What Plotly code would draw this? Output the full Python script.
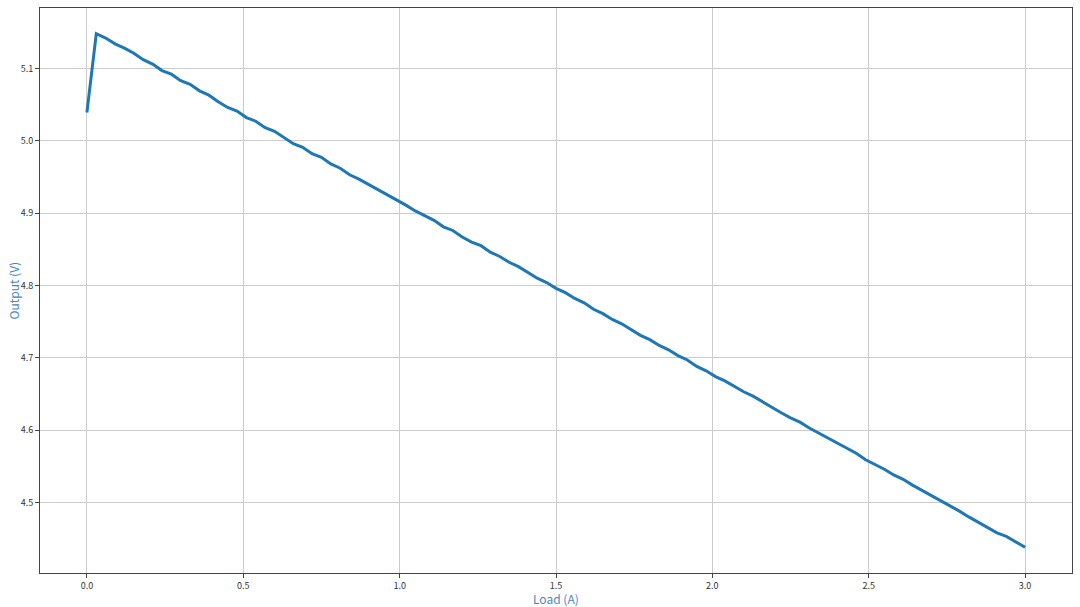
import plotly.graph_objects as go

load_a = [round(i * 0.03, 2) for i in range(101)]
output_v = [
    5.039, 5.148, 5.142, 5.134, 5.128, 5.121, 5.112, 5.106, 5.097, 5.092,
    5.083, 5.078, 5.069, 5.063, 5.054, 5.046, 5.041, 5.032, 5.027, 5.018,
    5.013, 5.004, 4.996, 4.991, 4.982, 4.977, 4.968, 4.962, 4.953, 4.947,
    4.940, 4.932, 4.926, 4.918, 4.911, 4.903, 4.897, 4.890, 4.881, 4.876,
    4.867, 4.860, 4.855, 4.846, 4.840, 4.832, 4.826, 4.818, 4.810, 4.804,
    4.796, 4.790, 4.782, 4.776, 4.767, 4.761, 4.753, 4.747, 4.739, 4.731,
    4.725, 4.717, 4.711, 4.703, 4.697, 4.688, 4.682, 4.674, 4.668, 4.660,
    4.653, 4.647, 4.639, 4.632, 4.624, 4.617, 4.611, 4.603, 4.596, 4.589,
    4.581, 4.574, 4.568, 4.559, 4.553, 4.546, 4.538, 4.532, 4.524, 4.517,
    4.509, 4.502, 4.495, 4.488, 4.480, 4.473, 4.466, 4.458, 4.453, 4.445,
    4.438,
]
x_ticks = [0.0, 0.5, 1.0, 1.5, 2.0, 2.5, 3.0]
y_ticks = [4.5, 4.6, 4.7, 4.8, 4.9, 5.0, 5.1]
x_title = "Load (A)"
y_title = "Output (V)"

fig = go.Figure()
fig.add_trace(go.Scatter(
    x=load_a, y=output_v, mode="lines",
    line=dict(color="#1f77b4", width=3),
    hoverinfo="x+y", showlegend=False,
))

xmin, xmax = min(load_a), max(load_a)
ymin, ymax = min(output_v), max(output_v)
xpad = (xmax - xmin) * 0.05
ypad = (ymax - ymin) * 0.05

axis_common = dict(
    showline=True, linecolor="#444444", linewidth=1, mirror=True,
    showgrid=True, gridcolor="#cccccc", gridwidth=1,
    ticks="outside", ticklen=4, tickcolor="#444444", tickwidth=1,
    tickfont=dict(family="Noto Sans CJK SC, DejaVu Sans", size=9, color="#333333"),
    zeroline=False, tickformat=".1f", automargin=False,
)
title_font = dict(family="Noto Sans CJK SC, DejaVu Sans", size=12, color="#4f86bd")

fig.update_layout(
    width=1080, height=607,
    margin=dict(l=40, r=8, t=8, b=34),
    paper_bgcolor="white", plot_bgcolor="white",
    xaxis=dict(range=[xmin - xpad, xmax + xpad], tickvals=x_ticks, **axis_common),
    yaxis=dict(range=[ymin - ypad, ymax + ypad], tickvals=y_ticks, **axis_common),
    annotations=[
        dict(text=x_title, xref="paper", yref="paper", x=0.5, y=0,
             xanchor="center", yanchor="top", yshift=-15,
             showarrow=False, font=title_font),
        dict(text=y_title, xref="paper", yref="paper", x=0, y=0.5,
             xanchor="center", yanchor="middle", xshift=-27, textangle=-90,
             showarrow=False, font=title_font),
    ],
)

fig.write_html(
    "out.html",
    config={"displayModeBar": False},
    post_script="document.body.style.margin='0';document.body.style.overflow='hidden';",
)
